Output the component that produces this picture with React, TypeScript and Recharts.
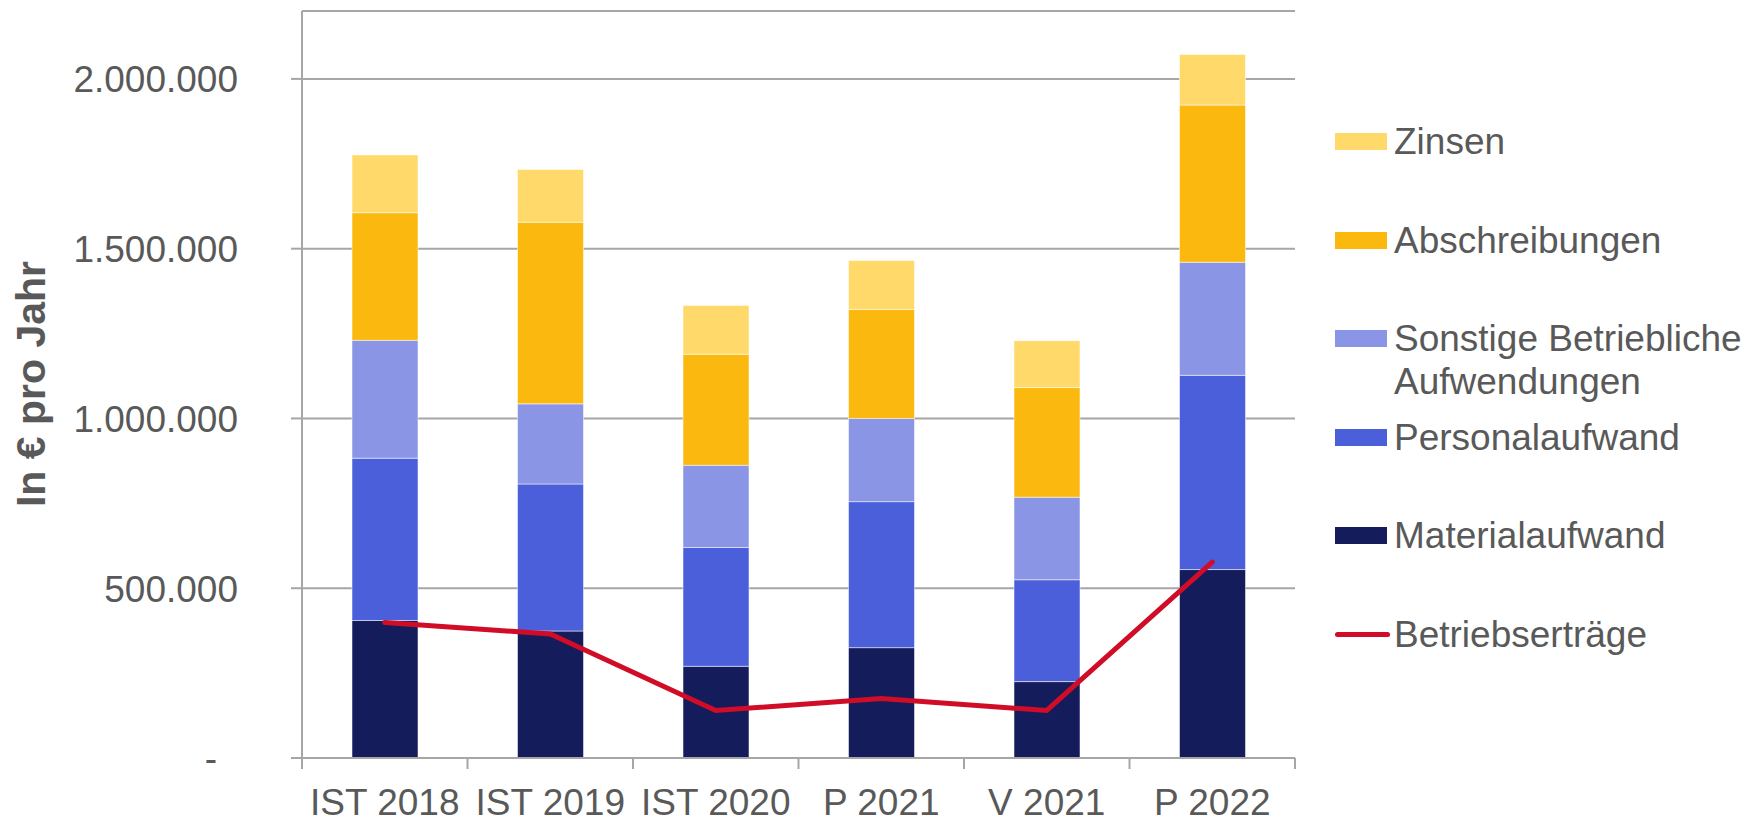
import React from 'react';
import { ComposedChart, Bar, Line, XAxis, YAxis, CartesianGrid, Label } from 'recharts';

const categories = ['IST 2018', 'IST 2019', 'IST 2020', 'P 2021', 'V 2021', 'P 2022'];
const materialaufwand = [405000, 374000, 270000, 325000, 225000, 555000];
const personalaufwand = [478000, 433000, 350000, 430000, 300000, 572000];
const sonstigeAufwendungen = [347000, 236000, 242000, 245000, 243000, 333000];
const abschreibungen = [376000, 535000, 327000, 321000, 323000, 463000];
const zinsen = [170000, 155000, 144000, 144000, 138000, 149000];
const betriebsertraege = [399000, 365000, 140000, 175000, 140000, 577000];
const yTicks = [0, 500000, 1000000, 1500000, 2000000];

const FONT = '"Liberation Sans", Arial, sans-serif';
const TEXT = '#595959';
const AXIS = '#a6a6a6';

const W = 1764;
const H = 818;
const PLOT_LEFT = 302;
const PLOT_RIGHT = 1295;
const BAND = (PLOT_RIGHT - PLOT_LEFT) / categories.length;

const data = categories.map((cat, i) => ({
  cat,
  material: materialaufwand[i],
  personal: personalaufwand[i],
  sonstige: sonstigeAufwendungen[i],
  abschr: abschreibungen[i],
  zinsen: zinsen[i],
  ertrag: betriebsertraege[i],
}));

// legend top-down, like the original
const legendItems = [
  { label: ['Zinsen'], color: '#FFDA6B', kind: 'bar' },
  { label: ['Abschreibungen'], color: '#FBB910', kind: 'bar' },
  { label: ['Sonstige Betriebliche', 'Aufwendungen'], color: '#8A95E6', kind: 'bar' },
  { label: ['Personalaufwand'], color: '#4A5FD9', kind: 'bar' },
  { label: ['Materialaufwand'], color: '#141C5B', kind: 'bar' },
  { label: ['Betriebserträge'], color: '#D00C27', kind: 'line' },
];

const fmt = (v: number) => v.toString().replace(/\B(?=(\d{3})+(?!\d))/g, '.');

const YTick = (props: any) => {
  const { x, y, payload } = props;
  const zero = payload.value === 0;
  return (
    <text
      x={zero ? x - 21 : x}
      y={y}
      dy="0.36em"
      textAnchor="end"
      fontSize={37}
      fontFamily={FONT}
      fill={TEXT}
    >
      {zero ? '-' : fmt(payload.value)}
    </text>
  );
};

const XTick = (props: any) => {
  const { x, y, payload, index } = props;
  const axisY = y - 11;
  const left = x - BAND / 2;
  return (
    <g>
      <line x1={left} x2={left} y1={axisY} y2={axisY + 11} stroke={AXIS} strokeWidth={2} />
      {index === categories.length - 1 && (
        <line x1={x + BAND / 2} x2={x + BAND / 2} y1={axisY} y2={axisY + 11} stroke={AXIS} strokeWidth={2} />
      )}
      <text x={x} y={axisY + 57} textAnchor="middle" fontSize={37} fontFamily={FONT} fill={TEXT}>
        {payload.value}
      </text>
    </g>
  );
};

const legendTop = 141.5;
const legendStep = 98.5;

export default function App() {
  return (
    <div style={{ position: 'absolute', left: 0, top: 0, width: W, height: H, background: '#fff' }}>
      <ComposedChart
        width={W}
        height={H}
        data={data}
        margin={{ top: 11, right: W - PLOT_RIGHT, left: 0, bottom: 0 }}
        barSize={66}
      >
        <CartesianGrid vertical={false} stroke={AXIS} strokeWidth={2} />
        <XAxis
          dataKey="cat"
          height={60}
          tickSize={11}
          tickMargin={0}
          tickLine={false}
          axisLine={{ stroke: AXIS, strokeWidth: 2 }}
          tick={<XTick />}
          interval={0}
        />
        <YAxis
          width={PLOT_LEFT}
          domain={[0, 2200000]}
          ticks={yTicks}
          tickSize={11}
          tickMargin={53}
          tickLine={{ stroke: AXIS, strokeWidth: 2 }}
          axisLine={{ stroke: AXIS, strokeWidth: 2 }}
          tick={<YTick />}
        >
          <Label
            content={() => (
              <text
                x={45}
                y={384}
                transform="rotate(-90, 45, 384)"
                textAnchor="middle"
                fontSize={41}
                fontWeight="bold"
                fontFamily={FONT}
                fill={TEXT}
              >
                In € pro Jahr
              </text>
            )}
          />
        </YAxis>
        <Bar dataKey="material" stackId="a" fill="#141C5B" stroke="#ffffff" strokeOpacity={0.5} strokeWidth={1} isAnimationActive={false} />
        <Bar dataKey="personal" stackId="a" fill="#4A5FD9" stroke="#ffffff" strokeOpacity={0.5} strokeWidth={1} isAnimationActive={false} />
        <Bar dataKey="sonstige" stackId="a" fill="#8A95E6" stroke="#ffffff" strokeOpacity={0.5} strokeWidth={1} isAnimationActive={false} />
        <Bar dataKey="abschr" stackId="a" fill="#FBB910" stroke="#ffffff" strokeOpacity={0.5} strokeWidth={1} isAnimationActive={false} />
        <Bar dataKey="zinsen" stackId="a" fill="#FFDA6B" stroke="#ffffff" strokeOpacity={0.5} strokeWidth={1} isAnimationActive={false} />
        <Line
          type="linear"
          dataKey="ertrag"
          stroke="#D00C27"
          strokeWidth={5}
          strokeLinecap="round"
          dot={false}
          activeDot={false}
          isAnimationActive={false}
        />
      </ComposedChart>

      {legendItems.map((item, i) => {
        const cy = legendTop + i * legendStep;
        return (
          <div key={i} style={{ position: 'absolute', left: 1335, top: cy - 21.5, fontFamily: FONT }}>
            {item.kind === 'bar' ? (
              <div style={{ position: 'absolute', left: 0, top: 13, width: 52, height: 17, background: item.color }} />
            ) : (
              <div
                style={{
                  position: 'absolute',
                  left: 0,
                  top: 19,
                  width: 55,
                  height: 5,
                  borderRadius: 3,
                  background: item.color,
                }}
              />
            )}
            <div
              style={{
                position: 'absolute',
                left: 59,
                top: 0,
                fontSize: 37,
                lineHeight: '43px',
                color: TEXT,
                whiteSpace: 'nowrap',
              }}
            >
              {item.label.map((l, j) => (
                <div key={j}>{l}</div>
              ))}
            </div>
          </div>
        );
      })}
    </div>
  );
}
